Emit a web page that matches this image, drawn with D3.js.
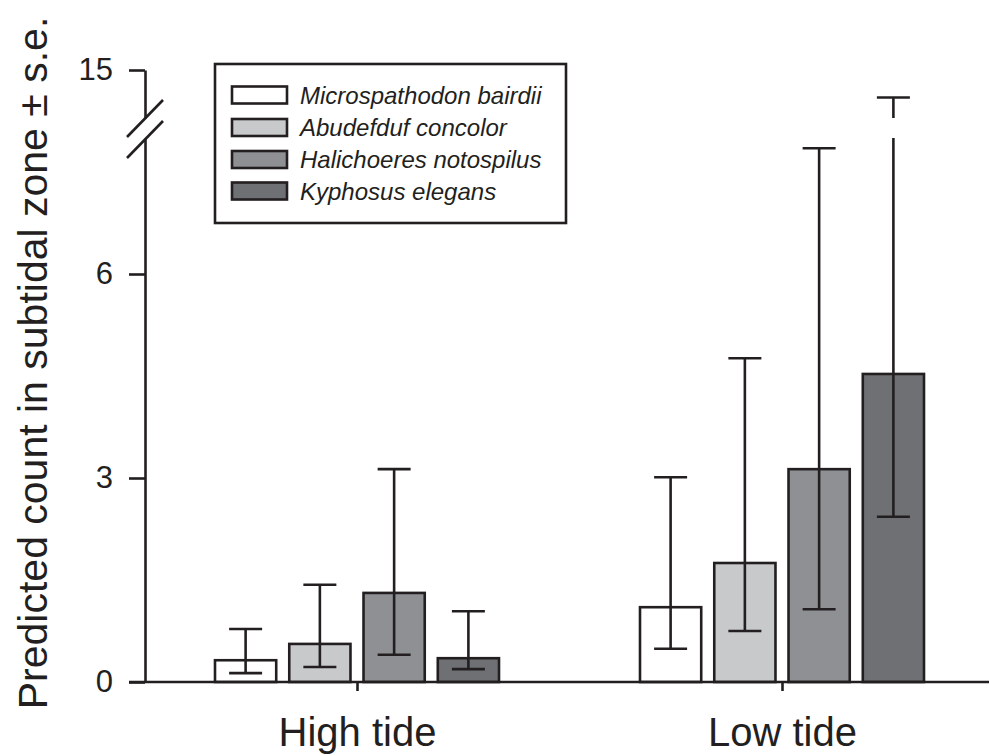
<!DOCTYPE html>
<html>
<head>
<meta charset="utf-8">
<script src="https://cdn.jsdelivr.net/npm/d3@7"></script>
<style>
  body { margin: 0; background: #fff; }
  svg { display: block; }
  text { font-family: "Liberation Sans", Arial, sans-serif; fill: #231f20; }
</style>
</head>
<body>
<svg id="chart" width="990" height="756"></svg>
<script>
// data
var groups = ['High tide', 'Low tide'];
var species = ['Microspathodon bairdii', 'Abudefduf concolor', 'Halichoeres notospilus', 'Kyphosus elegans'];
var colors = ['#ffffff', '#c8c9cb', '#8f9094', '#6f7074'];

var mean_high = [0.32, 0.56, 1.31, 0.35];
var upper_high = [0.78, 1.43, 3.13, 1.04];
var lower_high = [0.13, 0.22, 0.40, 0.19];

var mean_low = [1.10, 1.75, 3.13, 4.53];
var upper_low = [3.01, 4.76, 7.85, 14.6];
var lower_low = [0.49, 0.75, 1.07, 2.43];

var lower_ticks = [0, 3, 6];
var upper_ticks = [15];

var ink = '#231f20';
var svg = d3.select('#chart');

// broken y axis: 0-8 below the break, 14.3-15 above it
var yLow = d3.scaleLinear().domain([0, 8]).range([682, 138]);
var yUp = d3.scaleLinear().domain([14.3, 15]).range([118, 70]);
function y(v) { return v <= 8 ? yLow(v) : yUp(v); }

var x0 = d3.scalePoint().domain(groups).range([357, 782]);
var x1 = d3.scaleBand().domain(species).range([-142, 142]).paddingInner(13 / 74);

// build rows
var rows = [];
groups.forEach(function(g, gi) {
    var m = gi === 0 ? mean_high : mean_low;
    var u = gi === 0 ? upper_high : upper_low;
    var l = gi === 0 ? lower_high : lower_low;
    species.forEach(function(s, si) {
        rows.push({group: g, sp: s, i: si, mean: m[si], upper: u[si], lower: l[si]});
    });
});

// bars
svg.append('g').selectAll('rect').data(rows).enter().append('rect')
    .attr('x', function(d) { return x0(d.group) + x1(d.sp); })
    .attr('y', function(d) { return y(d.mean); })
    .attr('width', x1.bandwidth())
    .attr('height', function(d) { return y(0) - y(d.mean); })
    .attr('fill', function(d) { return colors[d.i]; })
    .attr('stroke', ink)
    .attr('stroke-width', 2.6);

// error bars
var eb = svg.append('g').attr('stroke', ink).attr('stroke-width', 2.6);
var capW = 33;
rows.forEach(function(d) {
    var cx = x0(d.group) + x1(d.sp) + x1.bandwidth() / 2;
    if (d.upper > 8) {
        eb.append('line').attr('x1', cx).attr('x2', cx).attr('y1', y(d.lower)).attr('y2', yLow(8));
        eb.append('line').attr('x1', cx).attr('x2', cx).attr('y1', yUp(14.3)).attr('y2', y(d.upper));
    } else {
        eb.append('line').attr('x1', cx).attr('x2', cx).attr('y1', y(d.lower)).attr('y2', y(d.upper));
    }
    [d.lower, d.upper].forEach(function(v) {
        eb.append('line')
            .attr('x1', cx - capW / 2).attr('x2', cx + capW / 2)
            .attr('y1', y(v)).attr('y2', y(v));
    });
});

// y axis (two pieces)
function styleAxis(g) {
    g.selectAll('path, line').attr('stroke', ink).attr('stroke-width', 2.6);
    g.selectAll('text').attr('font-size', 31).attr('fill', ink)
        .style('font-family', '"Liberation Sans", Arial, sans-serif');
}
svg.append('g').attr('transform', 'translate(145,0)')
    .call(d3.axisLeft(yLow).tickValues(lower_ticks).tickFormat(d3.format('d'))
        .tickSize(16).tickSizeOuter(0).tickPadding(16))
    .call(styleAxis);
svg.append('g').attr('transform', 'translate(145,0)')
    .call(d3.axisLeft(yUp).tickValues(upper_ticks).tickFormat(d3.format('d'))
        .tickSize(16).tickSizeOuter(0).tickPadding(16))
    .call(styleAxis);

// break marks
var brk = svg.append('g').attr('stroke', ink).attr('stroke-width', 2.6);
brk.append('line').attr('x1', 127).attr('y1', 137).attr('x2', 163).attr('y2', 100);
brk.append('line').attr('x1', 127).attr('y1', 158).attr('x2', 163).attr('y2', 121);

// x axis
svg.append('line').attr('x1', 129).attr('x2', 989).attr('y1', y(0)).attr('y2', y(0))
    .attr('stroke', ink).attr('stroke-width', 2.6);
var xa = svg.append('g').attr('transform', 'translate(0,' + y(0) + ')')
    .call(d3.axisBottom(x0).tickSize(9).tickPadding(27))
    .call(styleAxis);
xa.select('.domain').remove();
xa.selectAll('text').attr('font-size', 40);

// y label
svg.append('text')
    .attr('transform', 'translate(47,363) rotate(-90)')
    .attr('text-anchor', 'middle')
    .attr('font-size', 41)
    .text('Predicted count in subtidal zone \u00b1 s.e.');

// legend
var leg = svg.append('g');
leg.append('rect').attr('x', 215).attr('y', 64).attr('width', 351).attr('height', 159)
    .attr('fill', '#fff').attr('stroke', ink).attr('stroke-width', 2.6);
var legY = [95, 127.5, 159.5, 191];
species.forEach(function(s, i) {
    leg.append('rect').attr('x', 232).attr('y', legY[i] - 8.5).attr('width', 55).attr('height', 17)
        .attr('fill', colors[i]).attr('stroke', ink).attr('stroke-width', 2.6);
    leg.append('text').attr('x', 300).attr('y', legY[i] + 8.5)
        .attr('font-size', 24).attr('font-style', 'italic')
        .text(s);
});
</script>
</body>
</html>
